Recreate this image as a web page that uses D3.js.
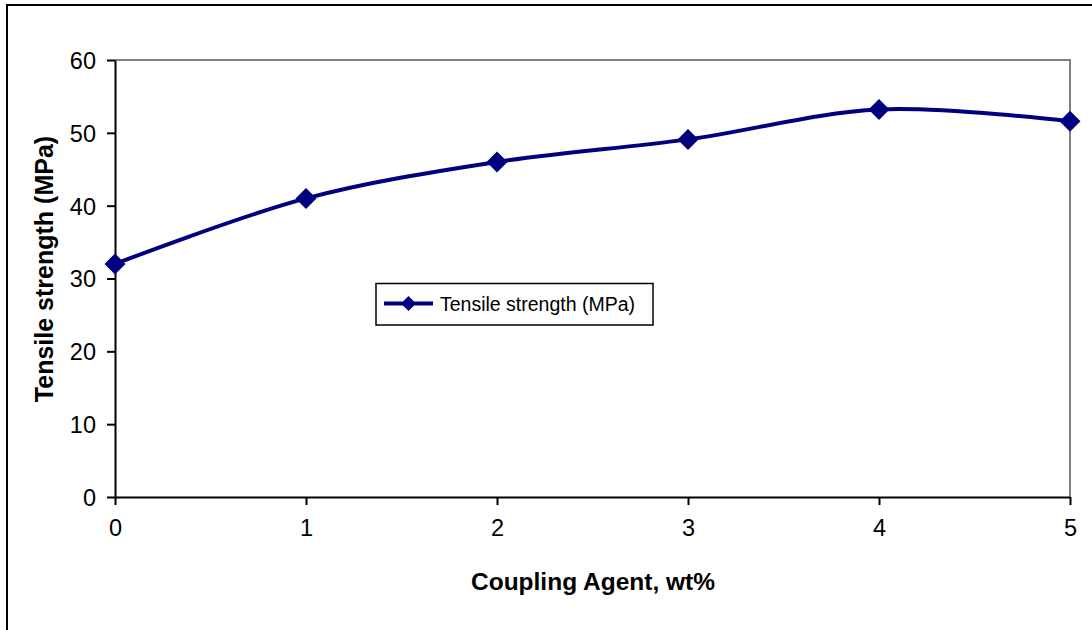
<!DOCTYPE html>
<html>
<head>
<meta charset="utf-8">
<script src="https://cdn.jsdelivr.net/npm/d3@7"></script>
<style>
  body { margin: 0; background: #fff; }
  svg { display: block; font-family: "Liberation Sans", Arial, sans-serif; }
</style>
</head>
<body>
<svg id="chart" width="1092" height="630"></svg>
<script>
const couplingAgent = [0, 1, 2, 3, 4, 5];
const tensileStrength = [32, 41, 46, 49.1, 53.2, 51.6];
const xTicks = [0, 1, 2, 3, 4, 5];
const yTicks = [0, 10, 20, 30, 40, 50, 60];
const seriesName = "Tensile strength (MPa)";
const xTitle = "Coupling Agent, wt%";
const yTitle = "Tensile strength (MPa)";

const svg = d3.select("#chart");
const W = 1092, H = 630;
const m = { left: 115, top: 60, right: 1070, bottom: 497 };
const navy = "#000080";

// outer frame
svg.append("rect").attr("x", 7).attr("y", 5).attr("width", W + 20).attr("height", H + 20)
  .attr("fill", "none").attr("stroke", "#000").attr("stroke-width", 2);

const x = d3.scaleLinear().domain([0, 5]).range([m.left, m.right]);
const y = d3.scaleLinear().domain([0, 60]).range([m.bottom, m.top]);

// plot border (top & right gray)
svg.append("path")
  .attr("d", `M${m.left},${m.top}H${m.right}V${m.bottom}`)
  .attr("fill", "none").attr("stroke", "#808080").attr("stroke-width", 2);

// y axis
const yAxis = svg.append("g").attr("transform", `translate(${m.left},0)`)
  .call(d3.axisLeft(y).tickValues(yTicks).tickFormat(d3.format("d")).tickSize(8).tickPadding(11).tickSizeOuter(0));
// x axis
const xAxis = svg.append("g").attr("transform", `translate(0,${m.bottom})`)
  .call(d3.axisBottom(x).tickValues(xTicks).tickFormat(d3.format("d")).tickSize(8).tickPadding(14).tickSizeOuter(0));

[yAxis, xAxis].forEach(g => {
  g.select(".domain").attr("stroke", "#000").attr("stroke-width", 2);
  g.selectAll(".tick line").attr("stroke", "#000").attr("stroke-width", 2);
  g.selectAll(".tick text").attr("fill", "#000").style("font-size", "23.5px")
    .style("font-family", "'Liberation Sans', Arial, sans-serif");
});
yAxis.selectAll(".tick text").attr("dy", "0.36em");

// line
const data = couplingAgent.map((d, i) => ({ x: d, y: tensileStrength[i] }));
const line = d3.line().x(d => x(d.x)).y(d => y(d.y)).curve(d3.curveCatmullRom.alpha(0.5));
svg.append("path").datum(data).attr("d", line)
  .attr("fill", "none").attr("stroke", navy).attr("stroke-width", 4).attr("stroke-linejoin", "round");

const diamond = (cx, cy, r) => `M${cx},${cy - r}L${cx + r},${cy}L${cx},${cy + r}L${cx - r},${cy}Z`;
svg.selectAll(".pt").data(data).join("path").attr("class", "pt")
  .attr("d", d => diamond(x(d.x), y(d.y), 10.5)).attr("fill", navy);

// legend
const lg = svg.append("g");
lg.append("rect").attr("x", 376).attr("y", 283.5).attr("width", 277).attr("height", 41.5)
  .attr("fill", "#fff").attr("stroke", "#000").attr("stroke-width", 1.5);
lg.append("line").attr("x1", 384).attr("x2", 433).attr("y1", 303.5).attr("y2", 303.5)
  .attr("stroke", navy).attr("stroke-width", 4);
lg.append("path").attr("d", diamond(408.5, 303.5, 7.5)).attr("fill", navy);
lg.append("text").attr("x", 440).attr("y", 304).attr("dy", "0.35em")
  .style("font-size", "19.5px").attr("fill", "#000").text(seriesName);

// titles
svg.append("text").attr("x", 593).attr("y", 590).attr("text-anchor", "middle")
  .style("font-size", "24.5px").style("font-weight", "bold").text(xTitle);
svg.append("text").attr("transform", "translate(53,269) rotate(-90)").attr("text-anchor", "middle")
  .style("font-size", "25px").style("font-weight", "bold").text(yTitle);
</script>
</body>
</html>
